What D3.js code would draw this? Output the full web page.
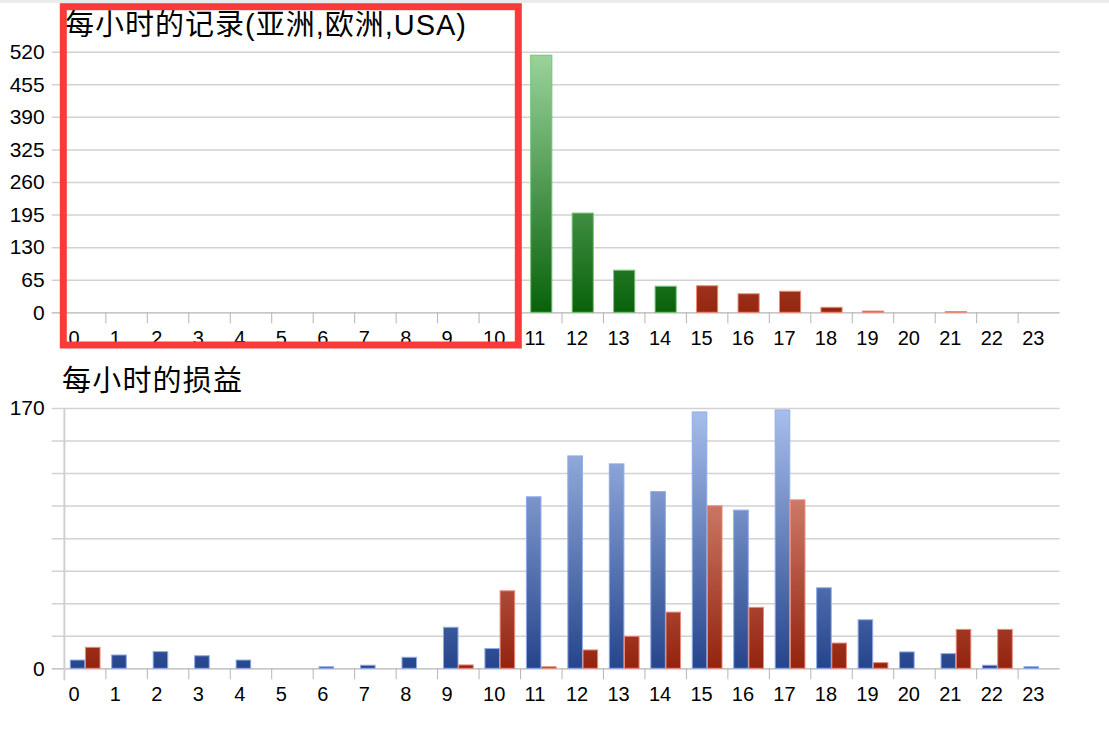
<!DOCTYPE html>
<html>
<head>
<meta charset="utf-8">
<script src="https://cdn.jsdelivr.net/npm/d3@7"></script>
<style>
  body { margin: 0; background: #fff; }
  text { font-family: "Liberation Sans", "Noto Sans CJK SC", sans-serif; fill: #000; }
  .title { font-size: 29px; }
  .tick-label { font-size: 20px; }
  .y-label { font-size: 21px; }
</style>
</head>
<body>
<div id="chart"></div>
<script>
// hours on the x axis
const hours = d3.range(0, 24);

// top chart: records per hour, two coloured series
const recordsGreen = [0, 0, 0, 0, 0, 0, 0, 0, 0, 0, 0, 513, 198, 84, 52, 0, 0, 0, 0, 0, 0, 0, 0, 0];
const recordsRed   = [0, 0, 0, 0, 0, 0, 0, 0, 0, 0, 0, 0, 0, 0, 0, 53, 37, 42, 10, 2.5, 0, 1.5, 0, 0];
const recordTicks = [0, 65, 130, 195, 260, 325, 390, 455, 520];

// bottom chart: profit / loss per hour
const profitBlue = [5.4, 8.7, 10.9, 8.2, 5.4, 0, 1, 2, 7.2, 26.8, 12.9, 112, 138.7, 133.5, 115.4, 167.4, 103.3, 168.7, 52.6, 31.7, 10.7, 9.6, 2, 1];
const profitRed  = [13.7, 0, 0, 0, 0, 0, 0, 0, 0, 2.2, 50.6, 1, 12, 20.9, 36.7, 106.1, 39.8, 110, 16.5, 3.7, 0, 25.4, 25.4, 0];
const profitTicks = [0, 21.25, 42.5, 63.75, 85, 106.25, 127.5, 148.75, 170];
const profitLabels = [0, 170];

const titles = ["每小时的记录(亚洲,欧洲,USA)", "每小时的损益"];

const W = 1109, H = 729;
const plotLeft = 64.4, plotRight = 1059.6, gridLeft = 51.7;

const svg = d3.select("#chart").append("svg")
  .attr("width", W)
  .attr("height", H);

const defs = svg.append("defs");

function gradient(id, y1, y2, top, bottom) {
  const g = defs.append("linearGradient")
    .attr("id", id)
    .attr("gradientUnits", "userSpaceOnUse")
    .attr("x1", 0).attr("x2", 0)
    .attr("y1", y1).attr("y2", y2);
  g.append("stop").attr("offset", "0%").attr("stop-color", top);
  g.append("stop").attr("offset", "100%").attr("stop-color", bottom);
}

// thin grey strip at the very top
svg.append("rect")
  .attr("x", 0).attr("y", 0)
  .attr("width", W).attr("height", 3)
  .attr("fill", "#ebebeb");

const x = d3.scaleBand()
  .domain(hours)
  .range([plotLeft, plotRight])
  .padding(0);

function drawFrame(y, ticks, labels, yTop, yZero) {
  // gridlines + y labels
  const axis = svg.append("g")
    .attr("transform", `translate(${gridLeft},0)`)
    .call(d3.axisLeft(y)
      .tickValues(ticks)
      .tickSize(-(plotRight - gridLeft))
      .tickPadding(7)
      .tickFormat(d => labels.includes(d) ? d : ""));
  axis.select(".domain").remove();
  axis.selectAll(".tick line")
    .attr("stroke", d => d === 0 ? "#b4b4b4" : "#d2d2d2")
    .attr("stroke-width", d => d === 0 ? 1.2 : 1.5);
  axis.selectAll(".tick text")
    .attr("class", "y-label")
    .attr("fill", "#000")
    .attr("font-family", null)
    .attr("font-size", null);

  // vertical axis line
  svg.append("line")
    .attr("x1", plotLeft).attr("x2", plotLeft)
    .attr("y1", yTop).attr("y2", yZero + 12)
    .attr("stroke", "#d0d0d0")
    .attr("stroke-width", 2);

  // category separators
  svg.append("g").selectAll("line")
    .data(hours.slice(1))
    .join("line")
    .attr("x1", d => x(d)).attr("x2", d => x(d))
    .attr("y1", yZero).attr("y2", yZero + 11)
    .attr("stroke", "#b4b4b4");

  // hour labels
  svg.append("g").selectAll("text")
    .data(hours)
    .join("text")
    .attr("class", "tick-label")
    .attr("x", d => x(d) + 4)
    .attr("y", yZero + 33)
    .text(d => d);
}

// ---------- top chart ----------
const y1 = d3.scaleLinear().domain([0, 520]).range([312.3, 51.7]);
gradient("gGreen", y1(520), y1(0), "#9cd49c", "#08620a");
gradient("gRed1", y1(520), y1(0), "#e89080", "#952710");

drawFrame(y1, recordTicks, recordTicks, y1(520), y1(0));

const stack1 = d3.stack().keys(["green", "red"])(
  hours.map(h => ({ hour: h, green: recordsGreen[h], red: recordsRed[h] }))
);
const topStyle = {
  green: { fill: "url(#gGreen)", stroke: "#74c474" },
  red: { fill: "url(#gRed1)", stroke: "#f08a78" }
};
const barW = x.bandwidth() * 0.51;

svg.append("g").selectAll("g")
  .data(stack1)
  .join("g")
  .attr("fill", s => topStyle[s.key].fill)
  .attr("stroke", s => topStyle[s.key].stroke)
  .selectAll("rect")
  .data(s => s.filter(d => d[1] - d[0] > 0))
  .join("rect")
  .attr("x", d => x(d.data.hour) + (x.bandwidth() - barW) / 2)
  .attr("y", d => y1(d[1]))
  .attr("width", barW)
  .attr("height", d => y1(d[0]) - y1(d[1]));

svg.append("text")
  .attr("class", "title")
  .attr("x", 65)
  .attr("y", 35)
  .attr("textLength", 401)
  .attr("lengthAdjust", "spacing")
  .text(titles[0]);

// ---------- bottom chart ----------
const y2 = d3.scaleLinear().domain([0, 170]).range([668.3, 408]);
gradient("gBlue", y2(170), y2(0), "#a8bfec", "#25458c");
gradient("gRed2", y2(170), y2(0), "#eba898", "#93230e");

drawFrame(y2, profitTicks, profitLabels, y2(170), y2(0));

const series = ["blue", "red"];
const xs = d3.scaleBand()
  .domain(series)
  .range([(x.bandwidth() - 31) / 2, (x.bandwidth() + 31) / 2])
  .padding(0.04);
const bottomStyle = {
  blue: { values: profitBlue, fill: "url(#gBlue)", stroke: "#8eaaea" },
  red: { values: profitRed, fill: "url(#gRed2)", stroke: "#ea8a7a" }
};

svg.append("g").selectAll("g")
  .data(series)
  .join("g")
  .attr("fill", s => bottomStyle[s].fill)
  .attr("stroke", s => bottomStyle[s].stroke)
  .selectAll("rect")
  .data(s => hours.map(h => ({ s, hour: h, v: bottomStyle[s].values[h] })).filter(d => d.v > 0))
  .join("rect")
  .attr("x", d => x(d.hour) + xs(d.s))
  .attr("y", d => y2(d.v))
  .attr("width", xs.bandwidth())
  .attr("height", d => y2(0) - y2(d.v));

svg.append("text")
  .attr("class", "title")
  .attr("x", 62)
  .attr("y", 391)
  .attr("textLength", 180)
  .attr("lengthAdjust", "spacing")
  .text(titles[1]);

// red highlight box over the empty morning hours
svg.append("rect")
  .attr("x", 63.3)
  .attr("y", 6.7)
  .attr("width", 455)
  .attr("height", 338.3)
  .attr("fill", "none")
  .attr("stroke", "#fa3a3a")
  .attr("stroke-width", 7);
</script>
</body>
</html>
